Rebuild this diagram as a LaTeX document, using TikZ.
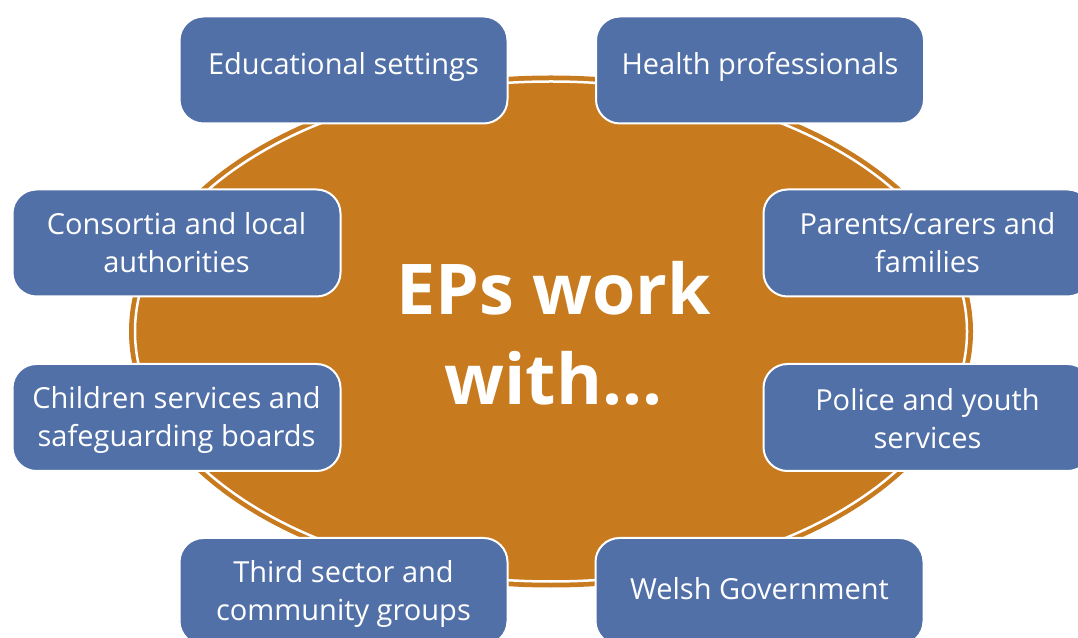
\documentclass[tikz,border=0pt]{standalone}
\usepackage{fontspec}
\setmainfont{Open Sans}
\definecolor{boxblue}{RGB}{81,112,167}
\definecolor{ovalorange}{RGB}{200,122,30}
\begin{document}
\begin{tikzpicture}[x=1pt,y=1pt,
  partner/.style={draw=white, line width=2pt, fill=boxblue, rounded corners=24pt,
    minimum width=328pt, minimum height=107pt, inner sep=0pt},
  ptext/.style={text=white, align=center, font=\fontsize{29}{38}\selectfont, inner sep=0pt},
  hub/.style={text=white, align=center, font=\fontsize{70}{90}\selectfont\bfseries, inner sep=0pt}]
\useasboundingbox (0,0) rectangle (1078,637);
\clip (0,0) rectangle (1078,637);
% central oval
\fill[ovalorange] (551,305.5) ellipse [x radius=422, y radius=256];
\draw[white, line width=2.5pt] (551,305.5) ellipse [x radius=416, y radius=250];
\node[hub] (hubtext) at (553.5,304) {EPs work\\with...};
% partner boxes
\node[partner] (edu) at (343.5,567) {};
\node[ptext] at (343.5,570) {Educational settings};
\node[partner] (health) at (760,567) {};
\node[ptext] at (760,570) {Health professionals};
\node[partner] (cons) at (176.5,394) {};
\node[ptext] at (176.5,394) {Consortia and local\\authorities};
\node[partner] (child) at (176.5,219.5) {};
\node[ptext] at (176.5,217) {Children services and\\safeguarding boards};
\node[partner] (parents) at (927.5,394) {};
\node[ptext] at (927.5,394) {Parents/carers and\\families};
\node[partner] (police) at (927.5,219.5) {};
\node[ptext] at (927.5,218) {Police and youth\\services};
\node[partner] (third) at (343.5,45.5) {};
\node[ptext] at (343.5,43) {Third sector and\\community groups};
\node[partner] (welsh) at (759.5,45.5) {};
\node[ptext] at (759.5,48) {Welsh Government};
\end{tikzpicture}
\end{document}
